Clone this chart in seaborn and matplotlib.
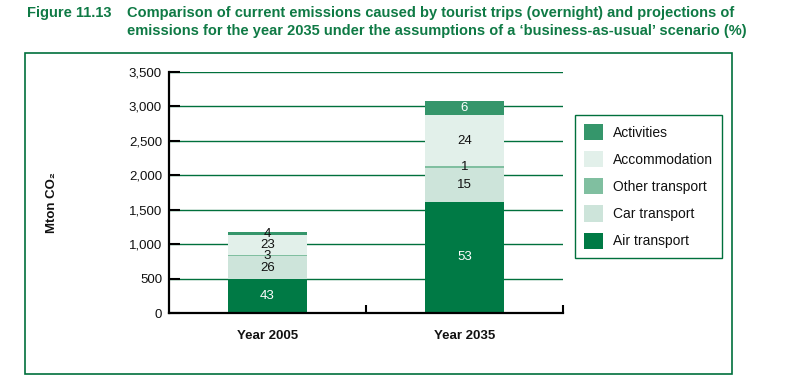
import numpy as np
import matplotlib.pyplot as plt
import matplotlib.patches as mpatches
from matplotlib.ticker import FuncFormatter, FixedLocator
import seaborn as sns

# data (Mton CO2) and printed shares (%)
years = ['Year 2005', 'Year 2035']
series = ['Air transport', 'Car transport', 'Other transport', 'Accommodation', 'Activities']
air = [495, 1614]
car = [325, 484]
other = [28, 29]
accommodation = [280, 742]
activities = [50, 204]
share_2005 = [43, 26, 3, 23, 4]
share_2035 = [53, 15, 1, 24, 6]

colors = ['#007a45', '#cde4da', '#80bfa0', '#e2f0ea', '#35966b']
# label colour per segment: white on the dark fills, dark on the light ones
label_colors = [['white', '#111111', '#111111', '#111111', '#111111'],
                ['white', '#111111', '#111111', '#111111', 'white']]
green = '#00703c'

sns.set_theme(style='white')
plt.rcParams['font.family'] = ['Liberation Sans', 'DejaVu Sans']

fig = plt.figure(figsize=(7.96, 3.92), dpi=100)
ax = fig.add_axes([169 / 796, 1 - 313 / 392, 394 / 796, 241.3 / 392])

values = np.array([air, car, other, accommodation, activities], dtype=float)
cum = np.cumsum(values, axis=0)

# draw cumulative bars from the top down so each layer shows as a stack segment
for i in range(len(series) - 1, -1, -1):
    sns.barplot(x=years, y=cum[i], color=colors[i], width=0.4, linewidth=0,
                saturation=1, ax=ax, zorder=2)

shares = np.array([share_2005, share_2035]).T
for i in range(len(series)):
    for j in range(len(years)):
        mid = cum[i, j] - values[i, j] / 2
        ax.text(j, mid, str(shares[i, j]), ha='center', va='center',
                fontsize=9.5, color=label_colors[j][i], zorder=5)

ax.set_xlim(-0.5, 1.5)
ax.set_ylim(0, 3500)
ax.set_yticks(np.arange(0, 3501, 500))
ax.yaxis.set_major_formatter(FuncFormatter(lambda v, p: f'{int(v):,}'))
ax.set_axisbelow(True)
ax.yaxis.grid(True, color=green, linewidth=1)
ax.xaxis.grid(False)
ax.set_xlabel('')
ax.set_ylabel('')

for s in ['top', 'right']:
    ax.spines[s].set_visible(False)
for s in ['left', 'bottom']:
    ax.spines[s].set_color('black')
    ax.spines[s].set_linewidth(1.6)

ax.tick_params(axis='y', direction='in', length=8, width=1.5, color='black',
               pad=5, labelsize=9.5, labelcolor='#111111', left=True)
ax.tick_params(axis='x', which='major', length=0, pad=12, labelsize=9.5)
ax.xaxis.set_minor_locator(FixedLocator([0.5, 1.5]))
ax.tick_params(axis='x', which='minor', direction='in', length=6, width=1.5,
               color='black', bottom=True)
for lbl in ax.get_xticklabels():
    lbl.set_fontweight('bold')
    lbl.set_color('#111111')

fig.text(52 / 796, 1 - 203 / 392, 'Mton CO\u2082', rotation=90, ha='center',
         va='center', fontsize=9.5, fontweight='bold', color='#111111')

handles = [mpatches.Patch(facecolor=colors[i], edgecolor='none', label=series[i])
           for i in range(len(series) - 1, -1, -1)]
leg = fig.legend(handles=handles, loc='upper left',
                 bbox_to_anchor=(575 / 796, 1 - 115 / 392), borderaxespad=0,
                 fontsize=10, handlelength=1.4, handleheight=1.4,
                 handletextpad=0.7, labelspacing=0.8, borderpad=0.65,
                 fancybox=False, framealpha=1)
leg.get_frame().set_edgecolor(green)
leg.get_frame().set_linewidth(1)
for t in leg.get_texts():
    t.set_color('#111111')

fig.patches.append(mpatches.Rectangle((25 / 796, 1 - 374 / 392), 707 / 796, 321 / 392,
                                      transform=fig.transFigure, fill=False,
                                      edgecolor=green, linewidth=1.2))

title_color = '#0f7a45'
title_font = ['Liberation Sans Narrow', 'Liberation Sans', 'DejaVu Sans']
fig.text(27 / 796, 1 - 17.3 / 392, 'Figure 11.13', ha='left', va='baseline',
         fontsize=10.5, fontweight='bold', color=title_color, family=title_font)
fig.text(127 / 796, 1 - 17.3 / 392,
         'Comparison of current emissions caused by tourist trips (overnight) and projections of',
         ha='left', va='baseline', fontsize=10.5, fontweight='bold', color=title_color, family=title_font)
fig.text(127 / 796, 1 - 35 / 392,
         'emissions for the year 2035 under the assumptions of a \u2018business-as-usual\u2019 scenario (%)',
         ha='left', va='baseline', fontsize=10.5, fontweight='bold', color=title_color, family=title_font)

fig.savefig('out.png', dpi=100)
